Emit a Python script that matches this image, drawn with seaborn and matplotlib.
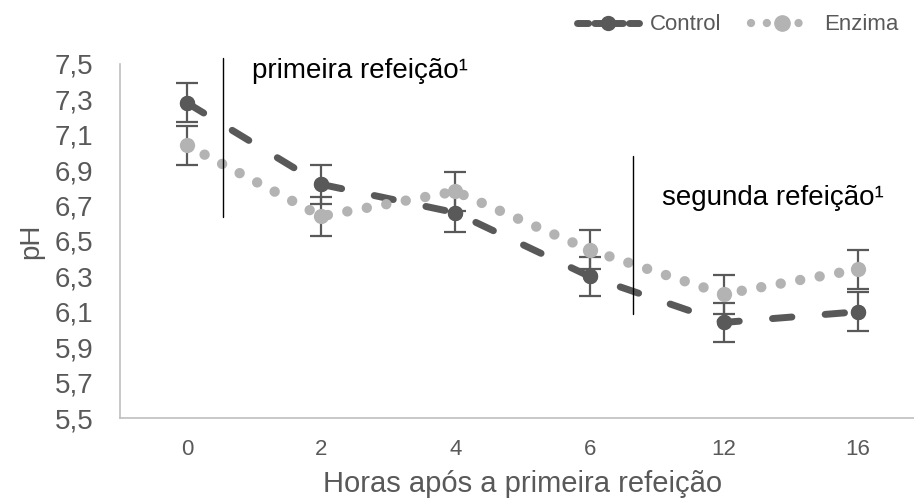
import matplotlib
matplotlib.use("Agg")
import matplotlib.pyplot as plt
from matplotlib.lines import Line2D
from matplotlib.ticker import FuncFormatter
import seaborn as sns
import pandas as pd

# ---- data ----
hours = ["0", "2", "4", "6", "12", "16"]
control = [7.28, 6.82, 6.66, 6.30, 6.04, 6.10]
enzima = [7.04, 6.64, 6.78, 6.45, 6.20, 6.34]
control_err = [0.11, 0.11, 0.11, 0.11, 0.11, 0.11]
enzima_err = [0.11, 0.11, 0.11, 0.11, 0.11, 0.11]
y_ticks = [5.5, 5.7, 5.9, 6.1, 6.3, 6.5, 6.7, 6.9, 7.1, 7.3, 7.5]
meal_lines = [(0.27, 6.636, 7.534), (3.32, 6.09, 6.98)]
meal_labels = ["primeira refeição¹", "segunda refeição¹"]
meal_text_pos = [(0.484, 7.42), (3.54, 6.703)]

sns.set_theme(style="white")
plt.rcParams["font.family"] = ["Liberation Sans", "DejaVu Sans"]

DARK = "#595959"
LIGHT = "#b3b3b3"
AXC = "#bfbfbf"

df = pd.DataFrame({
    "hora": hours * 2,
    "ph": control + enzima,
    "grupo": ["Control"] * len(hours) + ["Enzima"] * len(hours),
})
df["hora"] = pd.Categorical(df["hora"], categories=hours, ordered=True)

fig = plt.figure(figsize=(9.14, 4.99), dpi=100)
ax = fig.add_axes([120 / 914, 81 / 499, 805 / 914, 354 / 499])

xpos = list(range(len(hours)))

# error bars (behind lines)
ax.errorbar(xpos, enzima, yerr=enzima_err, fmt="none", ecolor=DARK,
            elinewidth=1.6, capsize=8, capthick=1.6, zorder=2)
ax.errorbar(xpos, control, yerr=control_err, fmt="none", ecolor=DARK,
            elinewidth=1.6, capsize=8, capthick=1.6, zorder=2)

sns.lineplot(data=df[df.grupo == "Control"], x="hora", y="ph", ax=ax,
             color=DARK, lw=5, marker="o", markersize=11,
             markeredgewidth=0, sort=False, legend=False, zorder=3)
ln_c = ax.lines[-1]
ln_c.set_dash_capstyle("round")
ln_c.set_dashes((2.8, 4.8))

sns.lineplot(data=df[df.grupo == "Enzima"], x="hora", y="ph", ax=ax,
             color=LIGHT, lw=7.5, marker="o", markersize=11,
             markeredgewidth=0, sort=False, legend=False, zorder=4)
ln_e = ax.lines[-1]
ln_e.set_dash_capstyle("round")
ln_e.set_dashes((0.001, 1.9))

# re-draw control markers above the dotted line
ax.errorbar(xpos, control, fmt="o", color=DARK, ms=11, mew=0, zorder=5)

# meal markers
for (xv, y0, y1), lab, (tx, ty) in zip(meal_lines, meal_labels, meal_text_pos):
    ax.plot([xv, xv], [y0, y1], color="black", lw=1, clip_on=False, zorder=6)
    ax.text(tx, ty, lab, fontsize=20, color="black", va="baseline", ha="left")

ax.set_xlim(-0.5, len(hours) - 0.5)
ax.set_ylim(5.5, 7.5)
ax.set_yticks(y_ticks)
ax.yaxis.set_major_formatter(FuncFormatter(lambda v, p: f"{v:.1f}".replace(".", ",")))
ax.set_xticks(xpos)
ax.set_xticklabels(hours)
ax.tick_params(axis="y", length=0, pad=19, labelsize=20, labelcolor=DARK)
ax.tick_params(axis="x", length=0, pad=15, labelsize=16, labelcolor=DARK)

ax.set_xlabel("Horas após a primeira refeição", fontsize=21, color=DARK, labelpad=7)
ax.set_ylabel("pH", fontsize=20, color=DARK, labelpad=8)

for s in ["top", "right"]:
    ax.spines[s].set_visible(False)
for s in ["left", "bottom"]:
    ax.spines[s].set_color(AXC)
    ax.spines[s].set_linewidth(1.2)
ax.grid(False)

# legend
h_c = Line2D([], [], color=DARK, lw=5, marker="o", markersize=10,
             dash_capstyle="round", dashes=(1.6, 0.9))
h_e = Line2D([], [], color=LIGHT, lw=6, marker="o", markersize=11,
             dash_capstyle="round", dashes=(0.001, 1.9))
leg = fig.legend([h_c, h_e], ["Control", "Enzima"], loc="center right",
                 bbox_to_anchor=(1.0, 1 - 25 / 499), ncol=2, frameon=False,
                 fontsize=16, handlelength=2.8, columnspacing=1.3,
                 handletextpad=0.5, borderaxespad=0.3)
for t in leg.get_texts():
    t.set_color(DARK)

fig.savefig("out.png", dpi=100)
